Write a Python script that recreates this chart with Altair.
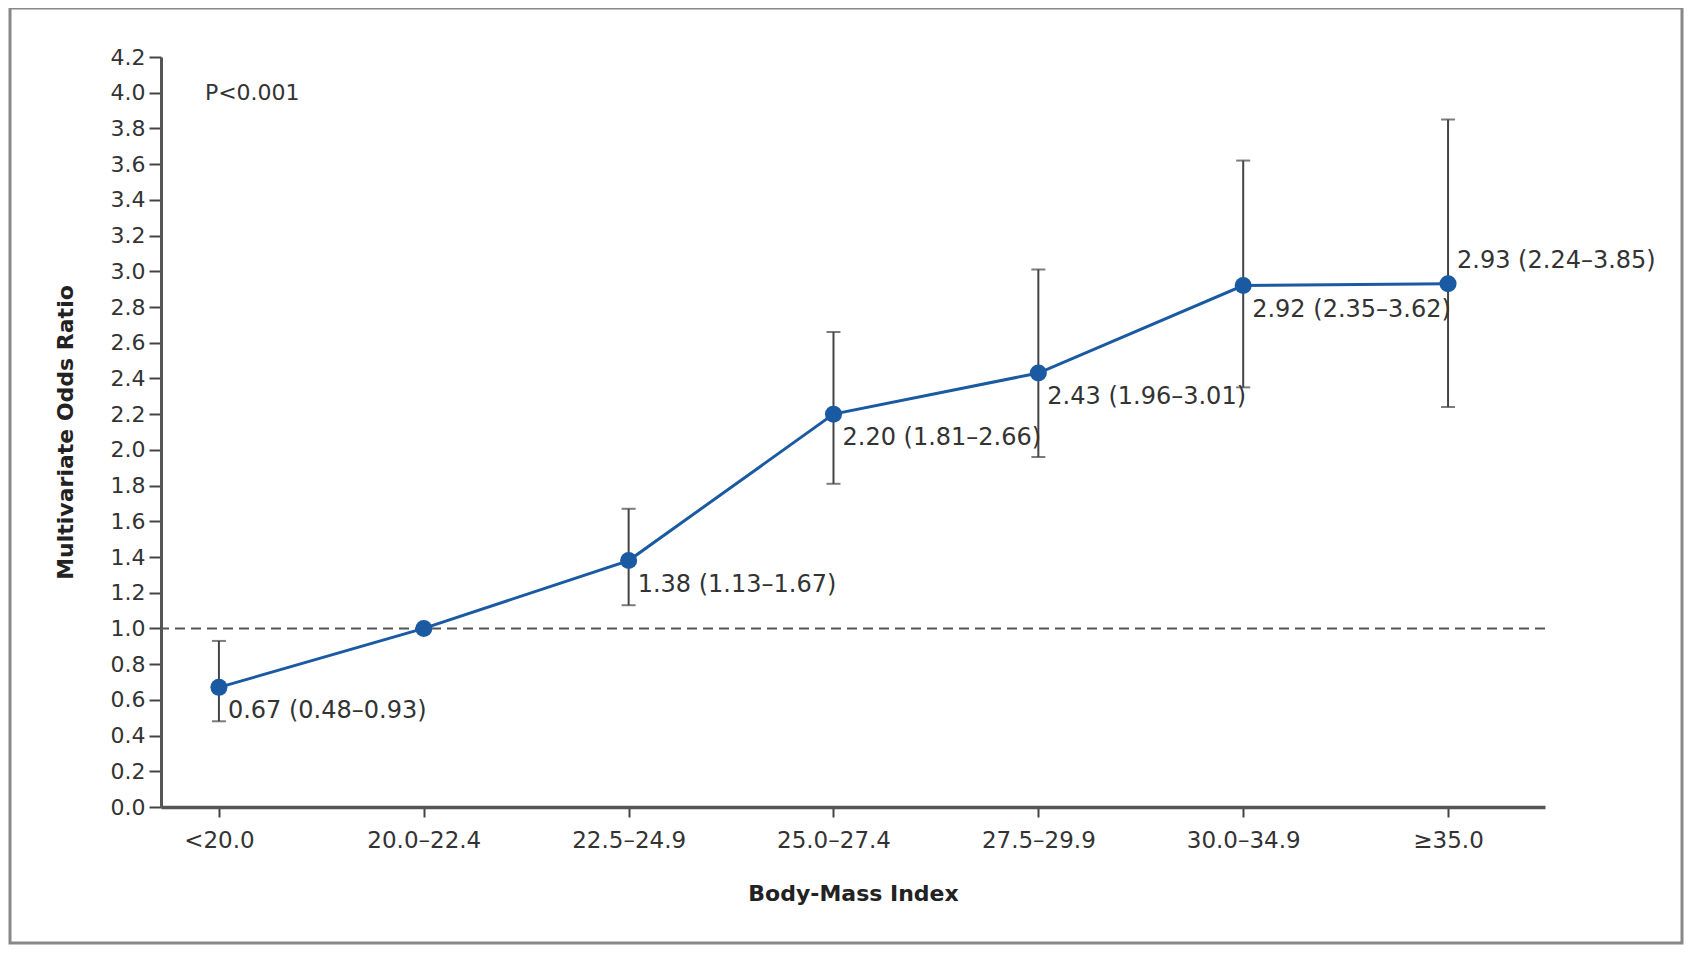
import altair as alt
import pandas as pd

categories = ["<20.0", "20.0\u201322.4", "22.5\u201324.9", "25.0\u201327.4",
              "27.5\u201329.9", "30.0\u201334.9", "\u226535.0"]
odds = [0.67, 1.00, 1.38, 2.20, 2.43, 2.92, 2.93]
lower = [0.48, None, 1.13, 1.81, 1.96, 2.35, 2.24]
upper = [0.93, None, 1.67, 2.66, 3.01, 3.62, 3.85]
labels = ["0.67 (0.48\u20130.93)", "", "1.38 (1.13\u20131.67)", "2.20 (1.81\u20132.66)",
          "2.43 (1.96\u20133.01)", "2.92 (2.35\u20133.62)", "2.93 (2.24\u20133.85)"]
y_ticks = [round(i * 0.2, 1) for i in range(22)]

df = pd.DataFrame({"bmi": categories, "or": odds, "lo": lower, "hi": upper,
                   "label": labels, "last": [False] * 6 + [True]})

W, H = 1384, 750
FONT = "DejaVu Sans"
BLUE = "#1a5aa3"

xs = alt.Scale(type="point", domain=categories, padding=0.378, align=0.374)
ys = alt.Scale(domain=[0, 4.2], nice=False, zero=True)

x_ax = alt.Axis(
    title="Body-Mass Index", labelAngle=0, labelFont=FONT, labelFontSize=23,
    labelColor="#333", labelPadding=12, tickSize=10, tickColor="#444", tickWidth=2,
    domainColor="#555", domainWidth=3.5, titleFont=FONT, titleFontSize=22,
    titleFontWeight="bold", titleColor="#222", titleX=W / 2, titleY=86,
    titleBaseline="middle", titleAlign="center", labelOverlap=False)
y_ax = alt.Axis(
    title="Multivariate Odds Ratio", values=y_ticks, format=".1f", grid=False,
    labelOverlap=False, labelFlush=False,
    labelFont=FONT, labelFontSize=22, labelColor="#333", labelPadding=4,
    tickSize=12, tickColor="#444", tickWidth=2, domainColor="#555", domainWidth=3,
    titleFont=FONT, titleFontSize=22, titleFontWeight="bold", titleColor="#222",
    titleX=-96, titleY=H / 2, titleAngle=-90, titleAlign="center",
    titleBaseline="middle")

def xq(field="bmi:N"):
    return alt.X(field, scale=xs, axis=x_ax)

def yq(field):
    return alt.Y(field, scale=ys, axis=y_ax)

base = alt.Chart(df)

frame = alt.Chart(alt.Data(values=[{}])).mark_rect(
    filled=False, stroke="#888", strokeWidth=3
).encode(x=alt.value(-151), x2=alt.value(1521), y=alt.value(-49), y2=alt.value(886))

ref = alt.Chart(alt.Data(values=[{"v": 1.0}])).mark_rule(
    color="#555", strokeWidth=2, strokeDash=[10, 6]
).encode(y=yq("v:Q"))

err = base.mark_rule(color="#444", strokeWidth=2).encode(
    x=xq(), y=yq("lo:Q"), y2="hi:Q")
cap_lo = base.mark_tick(color="#444", thickness=2, size=14, orient="horizontal").encode(
    x=xq(), y=yq("lo:Q"))
cap_hi = base.mark_tick(color="#444", thickness=2, size=14, orient="horizontal").encode(
    x=xq(), y=yq("hi:Q"))

line = base.mark_line(color=BLUE, strokeWidth=3).encode(x=xq(), y=yq("or:Q"))
pts = base.mark_point(filled=True, color=BLUE, size=290, opacity=1).encode(
    x=xq(), y=yq("or:Q"))

txt_below = base.transform_filter("!datum.last").mark_text(
    align="left", baseline="middle", dx=9, dy=24, font=FONT, fontSize=24, color="#333"
).encode(x=xq(), y=yq("or:Q"), text="label:N")
txt_above = base.transform_filter("datum.last").mark_text(
    align="left", baseline="middle", dx=9, dy=-23, font=FONT, fontSize=24, color="#333"
).encode(x=xq(), y=yq("or:Q"), text="label:N")

ptxt = alt.Chart(alt.Data(values=[{"t": "P<0.001", "bmi": categories[0], "v": 4.0}])).mark_text(
    align="left", baseline="middle", dx=-14, font=FONT, fontSize=22, color="#333"
).encode(x=xq(), y=yq("v:Q"), text="t:N")

chart = alt.layer(frame, ref, err, cap_lo, cap_hi, line, pts, txt_below, txt_above, ptxt).properties(
    width=W, height=H,
    background="white",
    autosize=alt.AutoSizeParams(type="none"),
    padding={"left": 153, "top": 49, "right": 139, "bottom": 138},
).configure_view(strokeWidth=0, strokeOpacity=0)

chart.save("out.html", embed_options={"renderer": "svg", "actions": False})
